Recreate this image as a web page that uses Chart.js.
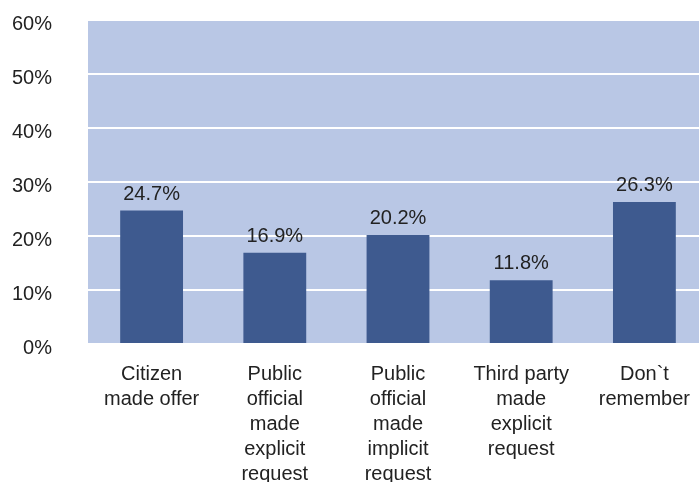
<!DOCTYPE html>
<html>
<head>
<meta charset="utf-8">
<script src="https://cdn.jsdelivr.net/npm/chart.js@4/dist/chart.umd.min.js"></script>
<style>
  html, body { margin: 0; padding: 0; background: #fff; overflow: hidden; }
  #wrap { width: 706px; height: 482px; }
</style>
</head>
<body>
<div id="wrap"><canvas id="myBarChart"></canvas></div>
<script>
const categories = [
  ["Citizen", "made offer"],
  ["Public", "official", "made", "explicit", "request"],
  ["Public", "official", "made", "implicit", "request"],
  ["Third party", "made", "explicit", "request"],
  ["Don`t", "remember"],
];
const values = [24.7, 16.9, 20.2, 11.8, 26.3];
const yTicks = [0, 10, 20, 30, 40, 50, 60];

const fontFamily = "'Liberation Sans', Arial, sans-serif";

// plot background + value labels
const plotBg = {
  id: "plotBg",
  beforeDraw(chart) {
    const { ctx, chartArea: a } = chart;
    ctx.save();
    ctx.fillStyle = "#b9c7e5";
    ctx.fillRect(a.left - 2, a.top, a.right - a.left + 2, a.bottom - a.top);
    ctx.restore();
  },
  afterDatasetsDraw(chart) {
    const { ctx } = chart;
    const meta = chart.getDatasetMeta(0);
    ctx.save();
    ctx.fillStyle = "#222";
    ctx.font = "20px " + fontFamily;
    ctx.textAlign = "center";
    ctx.textBaseline = "alphabetic";
    meta.data.forEach((bar, i) => {
      ctx.fillText(values[i].toFixed(1) + "%", bar.x, bar.y - 11);
    });
    ctx.restore();
  },
};

const ctxBar = document.getElementById("myBarChart");
const myBarChart = new Chart(ctxBar, {
  type: "bar",
  data: {
    labels: categories,
    datasets: [
      {
        data: values,
        backgroundColor: "#3e5a8f",
        borderWidth: 0,
        categoryPercentage: 1,
        barPercentage: 0.51,
      },
    ],
  },
  options: {
    responsive: true,
    maintainAspectRatio: false,
    animation: false,
    layout: { padding: { top: 20, right: 0, left: 0, bottom: 0 } },
    plugins: {
      legend: { display: false },
      tooltip: { enabled: false },
    },
    scales: {
      x: {
        grid: { display: false },
        border: { display: false },
        afterFit(axis) {
          axis.paddingLeft = 0;
          axis.paddingRight = 0;
          axis.height = 138;
        },
        ticks: {
          color: "#222",
          font: { family: fontFamily, size: 20, lineHeight: 1.25 },
          maxRotation: 0,
          autoSkip: false,
          padding: 10,
        },
      },
      y: {
        min: 0,
        max: 60,
        afterBuildTicks(axis) {
          axis.ticks = yTicks.map((v) => ({ value: v }));
        },
        afterFit(axis) {
          axis.paddingTop = 0;
          axis.paddingBottom = 0;
          axis.width = 90;
        },
        grid: { color: "#ffffff", lineWidth: 2, drawTicks: true, tickLength: 2 },
        border: { display: false },
        ticks: {
          color: "#222",
          font: { family: fontFamily, size: 20 },
          padding: 36,
          labelOffset: 4,
          callback: (v) => v + "%",
        },
      },
    },
  },
  plugins: [plotBg],
});
</script>
</body>
</html>
